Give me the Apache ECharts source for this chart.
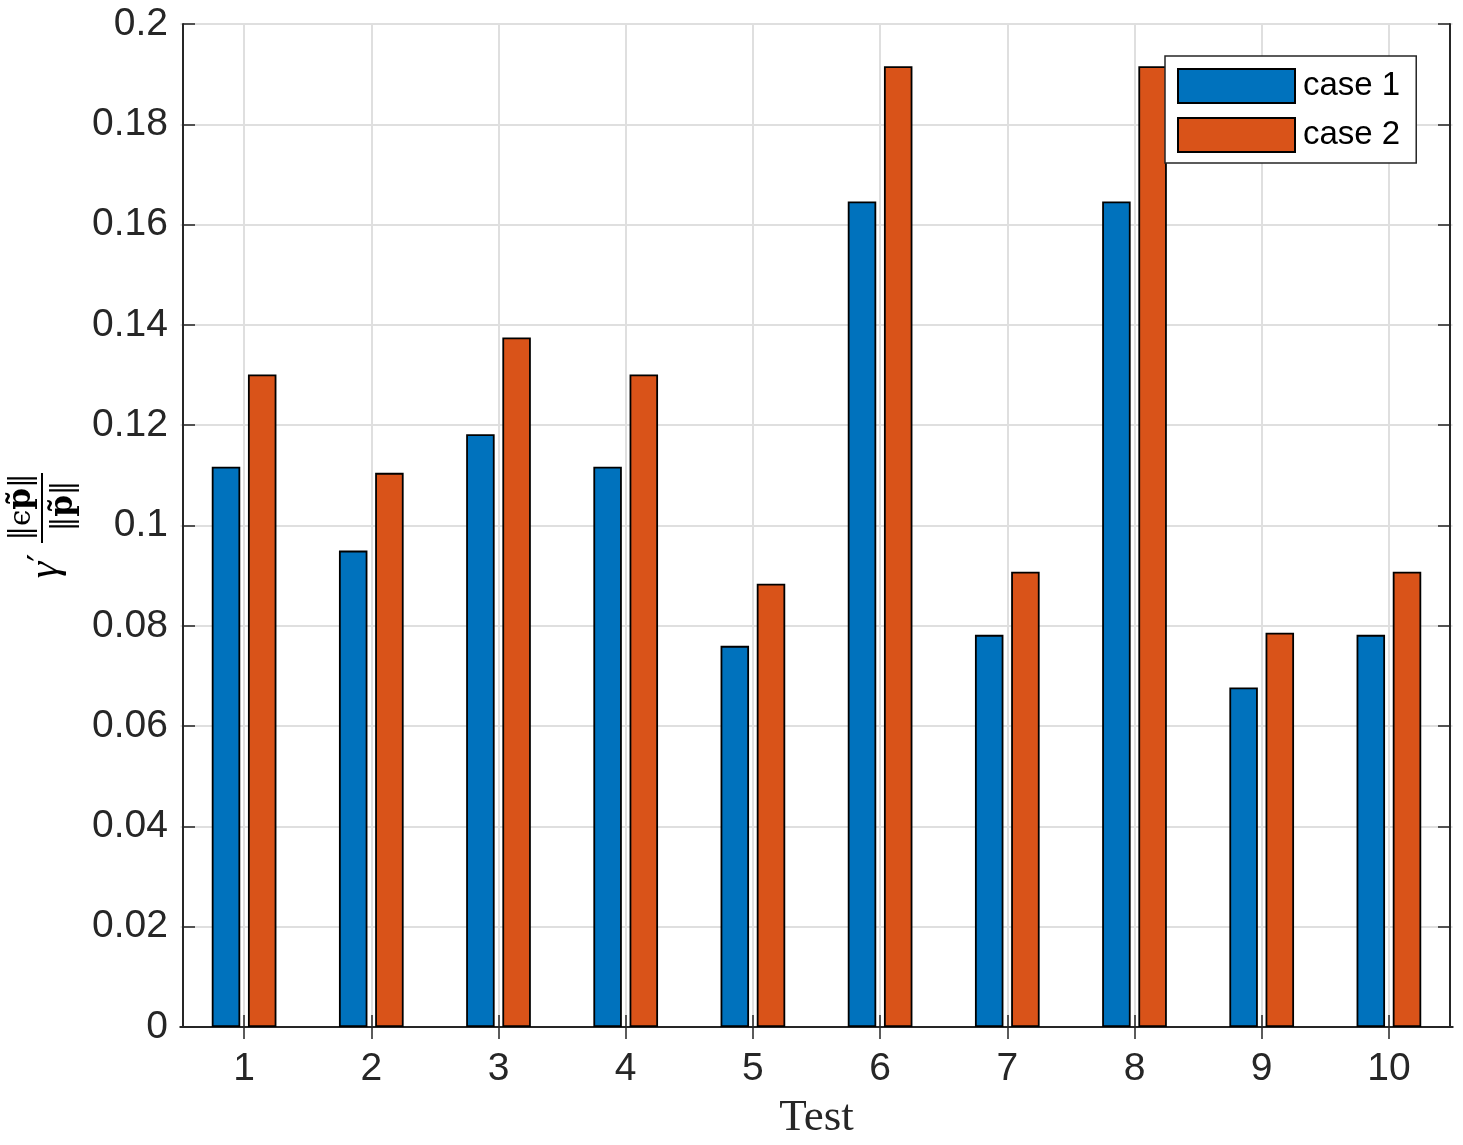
<!DOCTYPE html>
<html><head><meta charset="utf-8">
<script src="https://cdn.jsdelivr.net/npm/echarts@6/dist/echarts.min.js"></script>
<style>html,body{margin:0;padding:0;background:#fff}#c{width:1463px;height:1145px}</style>
</head><body><div id="c"></div>
<script>
const categories = ['1','2','3','4','5','6','7','8','9','10'];
const case1 = [0.1117,0.0950,0.1182,0.1117,0.0760,0.1646,0.0782,0.1646,0.0677,0.0782];
const case2 = [0.1301,0.1105,0.1375,0.1301,0.0884,0.1916,0.0908,0.1916,0.0786,0.0908];
const seriesNames = ['case 1','case 2'];
const yMin = 0, yMax = 0.2, yStep = 0.02;
const xTitle = 'Test';

const dark = '#262626';
const gridColor = '#dfdfdf';
const tickCommon = {show:true, inside:true, length:12, lineStyle:{color:dark, width:1.5}};
const chart = echarts.init(document.getElementById('c'), null, {renderer:'canvas'});
const option = {
  animation:false,
  backgroundColor:'#fff',
  grid:{left:180.5, right:10.5, top:24, bottom:118, containLabel:false, outerBoundsMode:'none'},
  legend:{
    orient:'vertical', left:1165, top:56,
    padding:[12,16,10,12], itemGap:13, itemWidth:117, itemHeight:34,
    backgroundColor:'#fff', borderColor:dark, borderWidth:1.5,
    icon:'rect',
    textStyle:{fontFamily:'Liberation Sans', fontSize:33, color:'#000', padding:[0,0,0,3]},
    data:seriesNames
  },
  xAxis:[{
    type:'category', data:categories, position:'bottom',
    axisLine:{show:true, lineStyle:{color:dark, width:2}},
    axisTick:Object.assign({alignWithLabel:true}, tickCommon),
    splitLine:{show:true, alignWithLabel:true, lineStyle:{color:gridColor, width:2}},
    axisLabel:{fontFamily:'Liberation Sans', fontSize:39, color:dark, margin:23},
    name:xTitle, nameLocation:'middle', nameGap:69,
    nameTextStyle:{fontFamily:'Liberation Serif', fontSize:45, color:dark}
  },{
    type:'category', data:categories, position:'top',
    axisLine:{show:true, lineStyle:{color:dark, width:2}},
    axisTick:Object.assign({alignWithLabel:true}, tickCommon),
    axisLabel:{show:false}, splitLine:{show:false}
  }],
  yAxis:[{
    type:'value', min:yMin, max:yMax, interval:yStep, offset:-2.5,
    axisLine:{show:true, lineStyle:{color:dark, width:2}},
    axisTick:tickCommon,
    splitLine:{show:true, lineStyle:{color:gridColor, width:2}},
    axisLabel:{fontFamily:'Liberation Sans', fontSize:39, color:dark, margin:15,
      formatter:v => String(+v.toFixed(2))}
  },{
    type:'value', position:'right', min:yMin, max:yMax, interval:yStep, offset:-2.5,
    axisLine:{show:true, lineStyle:{color:dark, width:2}},
    axisTick:tickCommon,
    axisLabel:{show:false}, splitLine:{show:false}
  }],
  series:[{
    type:'bar', name:seriesNames[0], data:case1, xAxisIndex:0, yAxisIndex:0,
    barWidth:28.5, barGap:'27%',
    itemStyle:{color:'#0072BD', borderColor:'#000', borderWidth:1.8}
  },{
    type:'bar', name:seriesNames[1], data:case2, xAxisIndex:0, yAxisIndex:0,
    barWidth:28.5, barGap:'27%',
    itemStyle:{color:'#D95319', borderColor:'#000', borderWidth:1.8}
  }],
  graphic:[{
    type:'group', x:42, y:527, rotation:Math.PI/2,
    children:[
      {type:'text', x:-39, y:4, style:{text:'{g|γ}{p|′}', align:'center', verticalAlign:'middle', fill:'#000',
        rich:{g:{fontFamily:'Liberation Serif', fontStyle:'italic', fontSize:42}, p:{fontFamily:'DejaVu Sans', fontSize:36, padding:[0,0,4,0]}}}},
      {type:'line', shape:{x1:-16, y1:0, x2:54, y2:0}, style:{stroke:'#000', lineWidth:2}},
      {type:'text', x:20, y:-20, style:{text:'{n|‖ϵ}{b|p̃}{n|‖}', align:'center', verticalAlign:'middle', fill:'#000',
        rich:{n:{fontFamily:'DejaVu Serif', fontSize:29}, b:{fontFamily:'DejaVu Serif', fontWeight:'bold', fontSize:31}}}},
      {type:'text', x:21, y:22, style:{text:'{n|‖}{b|p̃}{n|‖}', align:'center', verticalAlign:'middle', fill:'#000',
        rich:{n:{fontFamily:'DejaVu Serif', fontSize:29}, b:{fontFamily:'DejaVu Serif', fontWeight:'bold', fontSize:31}}}}
    ]
  }]
};
chart.setOption(option);
</script>
</body></html>
